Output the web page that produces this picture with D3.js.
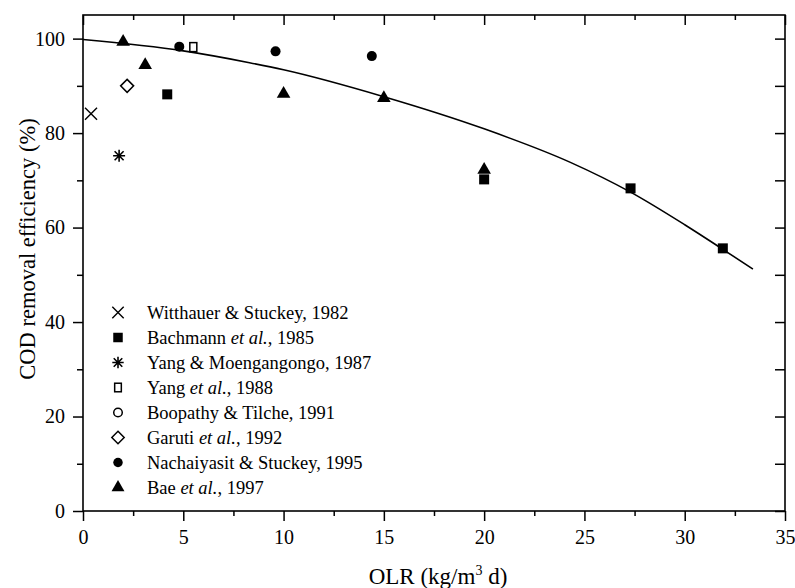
<!DOCTYPE html>
<html>
<head>
<meta charset="utf-8">
<script src="https://cdn.jsdelivr.net/npm/d3@7"></script>
<style>
body { margin: 0; background: #fff; }
svg { display: block; }
svg text { font-family: "Liberation Serif", "DejaVu Serif", "Times New Roman", serif; }
</style>
</head>
<body>
<svg width="795" height="588"></svg>
<script>
// data: [OLR, COD removal %]
var witthauer = [[0.4, 84.1]];
var bachmann = [[4.2, 88.2], [20.0, 70.2], [27.3, 68.3], [31.9, 55.6]];
var yangMoeng = [[1.8, 75.2]];
var yang1988 = [[5.5, 98.2]];
var boopathy = [];
var garuti = [[2.2, 90.0]];
var nachaiyasit = [[4.8, 98.3], [9.6, 97.3], [14.4, 96.3]];
var bae = [[2.0, 99.3], [3.1, 94.4], [10.0, 88.3], [15.0, 87.4], [20.0, 72.2]];

// fitted curve, read at a few OLR values
var fitOLR = [0, 5, 8.3, 10, 15, 20, 24.3, 27.3, 30, 31.9, 33.4];
var fitCOD = [99.8, 97.4, 94.9, 93.4, 87.7, 80.9, 73.8, 67.5, 60.6, 55.4, 51.2];

var xTicks = [0, 5, 10, 15, 20, 25, 30, 35];
var xMinor = [2.5, 7.5, 12.5, 17.5, 22.5, 27.5, 32.5];
var yTicks = [0, 20, 40, 60, 80, 100];
var yMinor = [10, 30, 50, 70, 90];

var legendLabels = [
	"Witthauer & Stuckey, 1982",
	"Bachmann et al., 1985",
	"Yang & Moengangongo, 1987",
	"Yang et al., 1988",
	"Boopathy & Tilche, 1991",
	"Garuti et al., 1992",
	"Nachaiyasit & Stuckey, 1995",
	"Bae et al., 1997"
];
var legendShapes = ["x", "square", "asterisk", "openSquare", "openCircle", "diamond", "circle", "triangle"];
var seriesData = [witthauer, bachmann, yangMoeng, yang1988, boopathy, garuti, nachaiyasit, bae];

var svg = d3.select("svg"),
	width = +svg.attr("width"),
	height = +svg.attr("height");

var x = d3.scaleLinear().domain([0, 35]).range([83, 785]);
var y = d3.scaleLinear().domain([0, 105]).range([511, 15]);

function styleAxis(g, size) {
	g.select(".domain").remove();
	g.attr("font-size", size);
	g.selectAll("line").attr("stroke", "#000").attr("stroke-width", 1.5);
	g.selectAll("text").attr("fill", "#000");
}

// bottom axis, ticks outward
svg.append("g")
	.attr("transform", "translate(0," + y(0) + ")")
	.call(d3.axisBottom(x).tickValues(xTicks).tickSize(10).tickPadding(9).tickFormat(d3.format("d")))
	.call(styleAxis, 20);
svg.append("g")
	.attr("transform", "translate(0," + y(0) + ")")
	.call(d3.axisBottom(x).tickValues(xMinor).tickSize(5).tickFormat(""))
	.call(styleAxis, 20);

// top axis, ticks inward
svg.append("g")
	.attr("transform", "translate(0," + y(105) + ")")
	.call(d3.axisBottom(x).tickValues(xTicks).tickSize(10).tickFormat(""))
	.call(styleAxis, 20);
svg.append("g")
	.attr("transform", "translate(0," + y(105) + ")")
	.call(d3.axisBottom(x).tickValues(xMinor).tickSize(5).tickFormat(""))
	.call(styleAxis, 20);

// left axis, ticks outward
svg.append("g")
	.attr("transform", "translate(" + x(0) + ",0)")
	.call(d3.axisLeft(y).tickValues(yTicks).tickSize(10).tickPadding(8).tickFormat(d3.format("d")))
	.call(styleAxis, 20);
svg.append("g")
	.attr("transform", "translate(" + x(0) + ",0)")
	.call(d3.axisLeft(y).tickValues(yMinor).tickSize(6).tickFormat(""))
	.call(styleAxis, 20);

// right axis, ticks inward
svg.append("g")
	.attr("transform", "translate(" + x(35) + ",0)")
	.call(d3.axisLeft(y).tickValues(yTicks.concat(yMinor)).tickSize(10).tickFormat(""))
	.call(styleAxis, 20);

// frame
svg.append("rect")
	.attr("x", x(0))
	.attr("y", y(105))
	.attr("width", x(35) - x(0))
	.attr("height", y(0) - y(105))
	.style("fill", "none")
	.style("stroke", "#000")
	.style("stroke-width", 1.6);

// fitted curve
var line = d3.line()
	.x(function(d, i) { return x(fitOLR[i]); })
	.y(function(d) { return y(d); })
	.curve(d3.curveMonotoneX);

svg.append("path")
	.attr("d", line(fitCOD))
	.style("fill", "none")
	.style("stroke", "#000")
	.style("stroke-width", 1.6);

// marker drawing
function drawMarker(g, shape, cx, cy, k) {
	var s;
	if (shape == "triangle") {
		g.append("path")
			.attr("d", d3.symbol(d3.symbolTriangle, 80 * k * k)())
			.attr("transform", "translate(" + cx + "," + cy + ")")
			.style("fill", "#000");
	} else if (shape == "circle") {
		g.append("circle").attr("cx", cx).attr("cy", cy).attr("r", 5 * k).style("fill", "#000");
	} else if (shape == "openCircle") {
		g.append("circle").attr("cx", cx).attr("cy", cy).attr("r", 4.5 * k)
			.style("fill", "#fff").style("stroke", "#000").style("stroke-width", 1.5);
	} else if (shape == "square") {
		s = 10 * k;
		g.append("rect").attr("x", cx - s / 2).attr("y", cy - s / 2).attr("width", s).attr("height", s).style("fill", "#000");
	} else if (shape == "openSquare") {
		g.append("rect").attr("x", cx - 3.5 * k).attr("y", cy - 4.5 * k).attr("width", 7 * k).attr("height", 9 * k)
			.style("fill", "#fff").style("stroke", "#000").style("stroke-width", 1.5);
	} else if (shape == "diamond") {
		s = 6.5 * k;
		g.append("path")
			.attr("d", "M" + cx + "," + (cy - s) + "L" + (cx + s) + "," + cy + "L" + cx + "," + (cy + s) + "L" + (cx - s) + "," + cy + "Z")
			.style("fill", "#fff").style("stroke", "#000").style("stroke-width", 1.5);
	} else if (shape == "x") {
		s = 6 * k;
		g.append("path")
			.attr("d", "M" + (cx - s) + "," + (cy - s) + "L" + (cx + s) + "," + (cy + s) + "M" + (cx - s) + "," + (cy + s) + "L" + (cx + s) + "," + (cy - s))
			.style("fill", "none").style("stroke", "#000").style("stroke-width", 1.4);
	} else if (shape == "asterisk") {
		s = 6 * k;
		var p = "M" + cx + "," + (cy - s) + "L" + cx + "," + (cy + s);
		p += "M" + (cx - s) + "," + cy + "L" + (cx + s) + "," + cy;
		var d = s * 0.75;
		p += "M" + (cx - d) + "," + (cy - d) + "L" + (cx + d) + "," + (cy + d);
		p += "M" + (cx - d) + "," + (cy + d) + "L" + (cx + d) + "," + (cy - d);
		g.append("path").attr("d", p).style("fill", "none").style("stroke", "#000").style("stroke-width", 1.6);
	}
}

var pts = svg.append("g");
seriesData.forEach(function(data, i) {
	data.forEach(function(d) {
		drawMarker(pts, legendShapes[i], x(d[0]), y(d[1]), 1);
	});
});

// legend
var legend = svg.append("g")
	.attr("font-size", 18.5);

legendLabels.forEach(function(label, i) {
	var cy = 312.5 + i * 25;
	drawMarker(legend, legendShapes[i], 118, cy, 0.95);
	var t = legend.append("text")
		.attr("x", 147)
		.attr("y", cy + 6)
		.style("fill", "#000");
	var parts = label.split("et al.");
	t.append("tspan").text(parts[0]);
	if (parts.length > 1) {
		t.append("tspan").style("font-style", "italic").text("et al.");
		t.append("tspan").text(parts[1]);
	}
});

// axis titles
var xt = svg.append("text")
	.attr("x", 438)
	.attr("y", 584)
	.attr("text-anchor", "middle")
	.attr("font-size", 23)
	.style("fill", "#000");
xt.append("tspan").text("OLR (kg/m");
xt.append("tspan").attr("font-size", 14).attr("dy", -9).text("3");
xt.append("tspan").attr("dy", 9).text(" d)");

svg.append("text")
	.attr("transform", "translate(35,249) rotate(-90)")
	.attr("text-anchor", "middle")
	.attr("font-size", 22.5)
	.style("fill", "#000")
	.text("COD removal efficiency (%)");
</script>
</body>
</html>
